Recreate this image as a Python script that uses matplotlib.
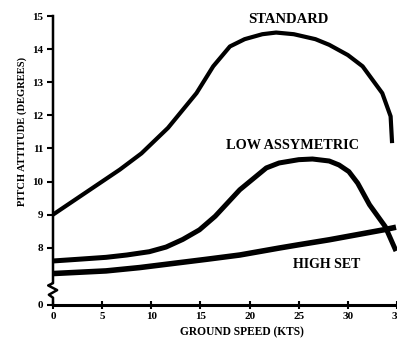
import matplotlib
matplotlib.use("Agg")
import matplotlib.pyplot as plt
import matplotlib.transforms as mtransforms

plt.rcParams['font.family'] = ['Liberation Serif', 'DejaVu Serif']
plt.rcParams['font.weight'] = 'bold'
plt.rcParams['axes.labelweight'] = 'bold'

# values (knots vs degrees)
std_x = [0, 2, 4, 6.8, 9, 11.7, 14.6, 16.3, 18, 19.5, 21.3, 22.7, 24.5, 26.7,
         28.1, 30, 31.5, 33.5, 34.35, 34.5]
std_y = [9.0, 9.4, 9.8, 10.36, 10.85, 11.62, 12.67, 13.48, 14.08, 14.3, 14.45,
         14.5, 14.45, 14.3, 14.13, 13.82, 13.48, 12.67, 11.97, 11.16]

low_x = [0, 2.5, 5.4, 7.5, 9.8, 11.5, 13.2, 14.9, 16.5, 19, 21.7, 23, 25, 26.4,
         28.1, 29.1, 30.1, 31, 32.2, 33.8, 34.9]
low_y = [7.6, 7.65, 7.71, 7.78, 7.88, 8.02, 8.25, 8.54, 8.95, 9.75, 10.41, 10.56,
         10.66, 10.68, 10.62, 10.5, 10.3, 9.95, 9.3, 8.64, 7.9]

high_x = [0, 5.4, 8.8, 15.6, 19, 23, 25, 28.1, 33.8, 34.9]
high_y = [7.22, 7.3, 7.4, 7.65, 7.78, 7.99, 8.09, 8.24, 8.55, 8.62]

x_ticks = [0, 5, 10, 15, 20, 25, 30, 35]
y_ticks = [8, 9, 10, 11, 12, 13, 14, 15]
zero_pos = 6.27  # where "0" sits below the axis break

fig = plt.figure(figsize=(3.97, 3.39), dpi=100)
ax = fig.add_axes([53 / 397, 34 / 339, 344 / 397, 289 / 339])

ax.plot(std_x, std_y, color='black', lw=3.0, solid_capstyle='butt')
ax.plot(low_x, low_y, color='black', lw=3.6, solid_capstyle='butt')
ax.plot(high_x, high_y, color='black', lw=4.0, solid_capstyle='butt')

ax.set_xlim(0, 35)
ax.set_ylim(zero_pos, 15)

ax.set_xticks(x_ticks)
ax.set_xticklabels([str(t) for t in x_ticks])
ax.set_yticks([zero_pos] + y_ticks)
ax.set_yticklabels(['0'] + [str(t) for t in y_ticks])
ax.tick_params(axis='x', direction='inout', length=6, width=1.5, labelsize=8, pad=2)
ax.tick_params(axis='y', direction='out', length=4, width=1.5, labelsize=8, pad=3)

for s in ['top', 'right', 'left']:
    ax.spines[s].set_visible(False)
ax.spines['bottom'].set_linewidth(2.2)

# left axis line with the zigzag break
trans = mtransforms.blended_transform_factory(ax.transAxes, ax.transData)
zx = [0, 0, 0, -0.014, 0.012, -0.012, 0, 0]
zy = [15, 6.97, 6.93, 6.86, 6.72, 6.58, 6.49, zero_pos]
ax.plot(zx, zy, color='black', lw=1.8, transform=trans, clip_on=False)

ax.text(23.9, 14.89, 'STANDARD', fontsize=10.5, ha='center', va='center')
ax.text(24.4, 11.1, 'LOW ASSYMETRIC', fontsize=10.3, ha='center', va='center')
ax.text(27.8, 7.5, 'HIGH SET', fontsize=10, ha='center', va='center')

ax.set_xlabel('GROUND SPEED (KTS)', fontsize=8.3, labelpad=0)
ax.xaxis.set_label_coords(0.55, -0.075)
ax.set_ylabel('PITCH ATTITUDE (DEGREES)', fontsize=7.6, labelpad=4)
ax.yaxis.set_label_coords(-0.075, 0.6)

fig.savefig('out.png', dpi=100)
